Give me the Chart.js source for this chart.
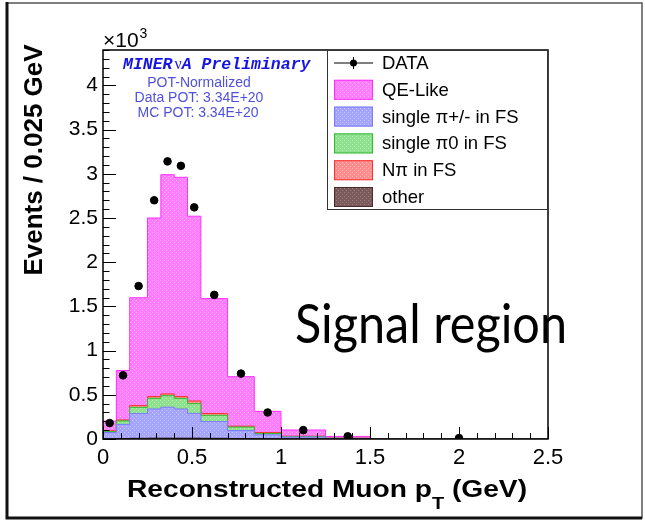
<!DOCTYPE html>
<html>
<head>
<meta charset="utf-8">
<script src="https://cdn.jsdelivr.net/npm/chart.js@4/dist/chart.umd.min.js"></script>
<style>
  html, body { margin: 0; padding: 0; background: #fff; }
  #wrap { width: 645px; height: 520px; }
</style>
</head>
<body>
<div id="wrap"><canvas id="ptChart" width="645" height="520"></canvas></div>
<script>
// muon pT bin edges (GeV)
const binEdges = [0, 0.075, 0.15, 0.25, 0.325, 0.4, 0.475, 0.55, 0.7, 0.85, 1.0, 1.25, 1.5, 2.5];

// events per bin, in units of 10^3
const dataEvents = [0.18, 0.72, 1.73, 2.70, 3.14, 3.09, 2.62, 1.63, 0.74, 0.30, 0.10, 0.03, 0.01];
const otherMC    = [0.003, 0.005, 0.008, 0.01, 0.01, 0.01, 0.01, 0.008, 0.005, 0.003, 0.002, 0.001, 0];
const piChargedMC = [0.07, 0.16, 0.28, 0.33, 0.35, 0.33, 0.28, 0.19, 0.09, 0.045, 0.02, 0.005, 0];
const piZeroMC   = [0.01, 0.04, 0.07, 0.12, 0.13, 0.12, 0.11, 0.07, 0.04, 0.015, 0.005, 0.002, 0];
const nPiMC      = [0.01, 0.01, 0.02, 0.02, 0.02, 0.02, 0.03, 0.02, 0.01, 0.01, 0.005, 0.001, 0];
const qeLikeMC   = [0.11, 0.56, 1.22, 2.02, 2.48, 2.48, 2.09, 1.30, 0.56, 0.24, 0.07, 0.02, 0];

const xTicks = [0, 0.5, 1, 1.5, 2, 2.5];
const yTicks = [0, 0.5, 1, 1.5, 2, 2.5, 3, 3.5, 4];

const legendLabels = ['DATA', 'QE-Like', 'single \u03c0+/- in FS', 'single \u03c00 in FS', 'N\u03c0 in FS', 'other'];

// ROOT-like dotted fill
function hatch(base, dot) {
    const c = document.createElement('canvas');
    c.width = 4; c.height = 4;
    const g = c.getContext('2d');
    g.fillStyle = base;
    g.fillRect(0, 0, 4, 4);
    g.fillStyle = dot;
    g.fillRect(0, 0, 1, 1);
    g.fillRect(2, 2, 1, 1);
    return g.createPattern(c, 'repeat');
}

const styles = {
    qe:    { fill: hatch('#ff7cff', '#ffb0ff'), line: '#ff30ff' },
    piC:   { fill: hatch('#a4a4ff', '#c8c8ff'), line: '#7a7aff' },
    pi0:   { fill: hatch('#8ee08e', '#b8f0b8'), line: '#33bb33' },
    npi:   { fill: hatch('#ff8c8c', '#ffb8b8'), line: '#ff3030' },
    other: { fill: hatch('#7a5a5a', '#a08080'), line: '#4a2a2a' }
};

// stack the MC components bottom-up and turn each cumulative sum into a step outline
const stackOrder = [
    { vals: otherMC, st: styles.other },
    { vals: piChargedMC, st: styles.piC },
    { vals: piZeroMC, st: styles.pi0 },
    { vals: nPiMC, st: styles.npi },
    { vals: qeLikeMC, st: styles.qe }
];
let running = binEdges.slice(1).map(() => 0);
const stackSets = stackOrder.map((comp, k) => {
    running = running.map((v, i) => v + comp.vals[i]);
    const pts = [{ x: binEdges[0], y: 0 }];
    for (let i = 0; i < running.length; i++) pts.push({ x: binEdges[i], y: running[i] });
    const n = running.length;
    pts.push({ x: binEdges[n], y: running[n - 1] });
    pts.push({ x: binEdges[n], y: 0 });
    return {
        type: 'line',
        data: pts,
        stepped: 'before',
        fill: 'origin',
        backgroundColor: comp.st.fill,
        borderColor: comp.st.line,
        borderWidth: 1,
        pointRadius: 0,
        order: 1 + k   // lower layers drawn last so they sit on top
    };
});

const dataPoints = dataEvents.map((v, i) => ({ x: (binEdges[i] + binEdges[i + 1]) / 2, y: v }));

const SANS = '"Liberation Sans", Arial, sans-serif';

// draw text squeezed/stretched to a given width
function fitText(ctx, txt, x, y, width) {
    const w = ctx.measureText(txt).width;
    ctx.save();
    ctx.translate(x, y);
    ctx.scale(width / w, 1);
    ctx.fillText(txt, 0, 0);
    ctx.restore();
}

const decorPlugin = {
    id: 'decor',
    beforeDraw(chart) {
        const ctx = chart.ctx;
        ctx.save();
        // page border
        ctx.strokeStyle = '#555';
        ctx.lineWidth = 1.5;
        ctx.strokeRect(7, 3, 635, 515);
        ctx.strokeStyle = '#111';
        ctx.lineWidth = 3;
        ctx.beginPath();
        ctx.moveTo(7, 2); ctx.lineTo(7, 518); ctx.lineTo(642, 518);
        ctx.stroke();
        ctx.restore();
    },
    afterDatasetsDraw(chart) {
        const ctx = chart.ctx;
        const a = chart.chartArea;
        const xs = chart.scales.x, ys = chart.scales.y;
        ctx.save();

        // slide annotation
        ctx.fillStyle = '#000';
        ctx.font = '54px Lato, "Open Sans", sans-serif';
        ctx.textBaseline = 'alphabetic';
        ctx.textAlign = 'left';
        fitText(ctx, 'Signal region', 295, 343, 272);

        // frame
        ctx.strokeStyle = '#000';
        ctx.lineWidth = 1.5;
        ctx.strokeRect(a.left, a.top, a.right - a.left, a.bottom - a.top);

        // ticks inside the frame
        ctx.lineWidth = 1;
        ctx.beginPath();
        for (let k = 0; k <= 25; k++) {
            const px = Math.round(xs.getPixelForValue(k / 10)) + 0.5;
            const len = k % 5 === 0 ? 12 : 6;
            ctx.moveTo(px, a.bottom);
            ctx.lineTo(px, a.bottom - len);
        }
        for (let k = 0; k <= 44; k++) {
            const py = Math.round(ys.getPixelForValue(k / 10)) + 0.5;
            const len = k % 5 === 0 ? 13 : 6.5;
            ctx.moveTo(a.left, py);
            ctx.lineTo(a.left + len, py);
        }
        ctx.stroke();

        // exponent
        ctx.fillStyle = '#000';
        ctx.font = '21px ' + SANS;
        ctx.fillText('\u00d710', 103, 47);
        const ew = ctx.measureText('\u00d710').width;
        ctx.font = '14px ' + SANS;
        ctx.fillText('3', 103 + ew + 1, 38);

        // x title, stretched a little to the frame proportions
        const t1 = 'Reconstructed Muon p', t3 = ' (GeV)';
        ctx.font = 'bold 24px ' + SANS;
        const w1 = ctx.measureText(t1).width, w3 = ctx.measureText(t3).width;
        ctx.font = 'bold 17px ' + SANS;
        const w2 = ctx.measureText('T').width;
        const sx = 400 / (w1 + w2 + w3);
        ctx.save();
        ctx.translate(127, 497);
        ctx.scale(sx, 1);
        ctx.font = 'bold 24px ' + SANS;
        ctx.fillText(t1, 0, 0);
        ctx.fillText(t3, w1 + w2, 0);
        ctx.font = 'bold 17px ' + SANS;
        ctx.fillText('T', w1, 12);
        ctx.restore();

        ctx.save();
        ctx.translate(42, 160);
        ctx.rotate(-Math.PI / 2);
        ctx.font = 'bold 26px ' + SANS;
        ctx.textAlign = 'center';
        ctx.fillText('Events / 0.025 GeV', 0, 0);
        ctx.restore();

        // experiment label
        ctx.textAlign = 'left';
        ctx.fillStyle = '#1414e6';
        ctx.font = 'italic bold 16.5px "Liberation Mono", monospace';
        let tx = 123;
        ctx.fillText('MINER', tx, 69);
        tx += ctx.measureText('MINER').width + 2;
        ctx.font = '16px "Liberation Serif", serif';
        ctx.fillText('\u03bd', tx, 69);
        tx += ctx.measureText('\u03bd').width;
        ctx.font = 'italic bold 16.5px "Liberation Mono", monospace';
        ctx.fillText('A Preliminary', tx, 69);

        ctx.fillStyle = '#5050dc';
        ctx.font = '14px ' + SANS;
        ctx.textAlign = 'center';
        ctx.fillText('POT-Normalized', 199, 87);
        ctx.fillText('Data POT: 3.34E+20', 199, 102);
        ctx.fillText('MC POT: 3.34E+20', 198, 117);

        // legend
        const lx = 327, ly = a.top, lw = a.right - 327, lh = 160;
        ctx.fillStyle = '#fff';
        ctx.fillRect(lx, ly, lw, lh);
        ctx.strokeStyle = '#333';
        ctx.lineWidth = 1;
        ctx.strokeRect(lx + 0.5, ly + 0.5, lw - 1, lh - 1);
        const swatches = [null, styles.qe, styles.piC, styles.pi0, styles.npi, styles.other];
        ctx.textAlign = 'left';
        ctx.textBaseline = 'middle';
        ctx.font = '18.5px ' + SANS;
        legendLabels.forEach((lab, i) => {
            const cy = 63 + i * 26.8;
            if (swatches[i]) {
                ctx.fillStyle = swatches[i].fill;
                ctx.fillRect(334, cy - 10, 39, 20);
                ctx.strokeStyle = swatches[i].line;
                ctx.strokeRect(334.5, cy - 9.5, 38, 19);
            } else {
                ctx.strokeStyle = '#000';
                ctx.beginPath();
                ctx.moveTo(334, cy); ctx.lineTo(373, cy);
                ctx.moveTo(353.5, cy - 6); ctx.lineTo(353.5, cy + 6);
                ctx.stroke();
                ctx.fillStyle = '#000';
                ctx.beginPath();
                ctx.arc(353.5, cy, 3.5, 0, Math.PI * 2);
                ctx.fill();
            }
            ctx.fillStyle = '#000';
            ctx.fillText(lab, 382, cy + 1);
        });
        ctx.restore();
    }
};

new Chart(document.getElementById('ptChart'), {
    type: 'line',
    data: {
        datasets: [
            {
                type: 'scatter',
                data: dataPoints,
                pointRadius: 3.8,
                pointBackgroundColor: '#000',
                pointBorderColor: '#000',
                showLine: false,
                order: 0
            },
            ...stackSets
        ]
    },
    options: {
        responsive: false,
        animation: false,
        events: [],
        layout: { padding: { left: 0, top: 50, right: 97, bottom: 0 } },
        plugins: { legend: { display: false }, tooltip: { enabled: false } },
        scales: {
            x: {
                type: 'linear',
                min: 0,
                max: 2.5,
                afterBuildTicks: s => { s.ticks = xTicks.map(v => ({ value: v })); },
                afterFit: s => { s.height = 81; },
                grid: { display: false, drawTicks: false },
                border: { display: false },
                ticks: { color: '#000', font: { family: SANS, size: 22 }, padding: 6, maxRotation: 0, callback: v => String(v) }
            },
            y: {
                type: 'linear',
                min: 0,
                max: 4.4,
                afterBuildTicks: s => { s.ticks = yTicks.map(v => ({ value: v })); },
                afterFit: s => { s.width = 103; },
                grid: { display: false, drawTicks: false },
                border: { display: false },
                ticks: { color: '#000', font: { family: SANS, size: 21 }, padding: 5, callback: v => String(v) }
            }
        }
    },
    plugins: [decorPlugin]
});
</script>
</body>
</html>
